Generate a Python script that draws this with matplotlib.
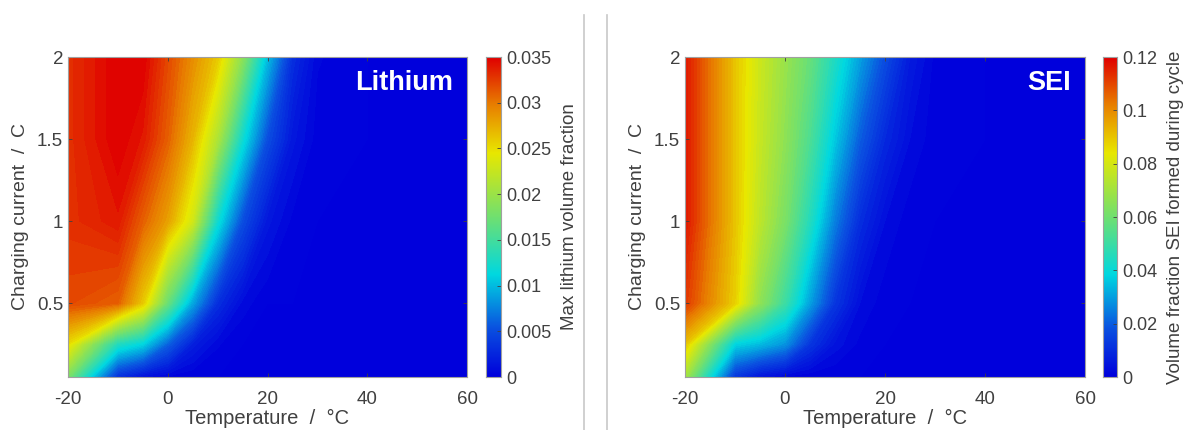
import numpy as np
import matplotlib
matplotlib.use("Agg")
import matplotlib.pyplot as plt
from matplotlib.colors import LinearSegmentedColormap
from matplotlib.lines import Line2D

plt.rcParams['font.family'] = ['Liberation Sans', 'DejaVu Sans']
plt.rcParams['axes.unicode_minus'] = False

# grid
temperatures = [-20, -10, -5, 0, 5, 10, 15, 20, 25, 30, 40, 50, 60]
c_rates = [0.05, 0.25, 0.5, 1.0, 1.5, 2.0]

# max lithium volume fraction, one row per C-rate
lithium = [
    [0.018, 0.003, 0.001, 0.0003, 0.0, 0.0, 0.0, 0.0, 0.0, 0.0, 0.0, 0.0, 0.0],
    [0.025, 0.013, 0.011, 0.006, 0.002, 0.0005, 0.0, 0.0, 0.0, 0.0, 0.0, 0.0, 0.0],
    [0.032, 0.031, 0.026, 0.017, 0.009, 0.003, 0.0007, 0.0, 0.0, 0.0, 0.0, 0.0, 0.0],
    [0.033, 0.034, 0.031, 0.028, 0.023, 0.012, 0.005, 0.0015, 0.0003, 0.0, 0.0, 0.0, 0.0],
    [0.033, 0.035, 0.034, 0.031, 0.027, 0.021, 0.012, 0.005, 0.0015, 0.0002, 0.0, 0.0, 0.0],
    [0.033, 0.035, 0.035, 0.032, 0.029, 0.026, 0.019, 0.010, 0.003, 0.0005, 0.0, 0.0, 0.0],
]

# volume fraction SEI formed during cycle
sei = [
    [0.070, 0.012, 0.004, 0.001, 0.0, 0.0, 0.0, 0.0, 0.0, 0.0, 0.0, 0.0, 0.0],
    [0.090, 0.038, 0.034, 0.028, 0.012, 0.004, 0.001, 0.0, 0.0, 0.0, 0.0, 0.0, 0.0],
    [0.112, 0.088, 0.066, 0.050, 0.030, 0.012, 0.003, 0.0005, 0.0, 0.0, 0.0, 0.0, 0.0],
    [0.117, 0.090, 0.075, 0.062, 0.045, 0.025, 0.010, 0.003, 0.0005, 0.0, 0.0, 0.0, 0.0],
    [0.117, 0.090, 0.077, 0.066, 0.053, 0.036, 0.020, 0.009, 0.003, 0.0005, 0.0, 0.0, 0.0],
    [0.117, 0.090, 0.078, 0.068, 0.058, 0.044, 0.030, 0.017, 0.006, 0.001, 0.0, 0.0, 0.0],
]

panels = [
    (lithium, 0.035, "Max lithium volume fraction", "Lithium",
     [0, 0.005, 0.01, 0.015, 0.02, 0.025, 0.03, 0.035]),
    (sei, 0.12, "Volume fraction SEI formed during cycle", "SEI",
     [0, 0.02, 0.04, 0.06, 0.08, 0.1, 0.12]),
]

cmap = LinearSegmentedColormap.from_list("bcyr", [
    (0.0, "#0000dc"),
    (0.15, "#0a50e0"),
    (0.32, "#00d8e0"),
    (0.5, "#70e070"),
    (0.7, "#e8e800"),
    (0.85, "#e88000"),
    (1.0, "#e00000"),
])

text_col = "#404040"

fig = plt.figure(figsize=(11.84, 4.30), dpi=100)
W, H = 1184, 430

ax_boxes = [(68, 57, 467, 377), (685, 57, 1085, 377)]
cb_boxes = [(486, 57, 501, 377), (1103, 57, 1117, 377)]

T, C = np.meshgrid(temperatures, c_rates)

for (data, vmax, cblabel, name, cticks), ab, cbb in zip(panels, ax_boxes, cb_boxes):
    ax = fig.add_axes([ab[0] / W, 1 - ab[3] / H, (ab[2] - ab[0]) / W, (ab[3] - ab[1]) / H])
    levels = np.linspace(0, vmax, 80)
    ax.contourf(T, C, np.array(data), levels=levels, cmap=cmap, vmin=0, vmax=vmax, extend="both")
    ax.set_xlim(-20, 60)
    ax.set_ylim(0.05, 2)
    ax.set_xticks([-20, 0, 20, 40, 60])
    ax.set_yticks([0.5, 1, 1.5, 2])
    ax.set_yticklabels(["0.5", "1", "1.5", "2"])
    ax.tick_params(labelsize=13.5, colors=text_col, direction="in", length=3,
                   top=True, right=True, width=0.6)
    ax.tick_params(axis="x", pad=10)
    for s in ax.spines.values():
        s.set_color("#a0a0a0")
        s.set_linewidth(0.8)
    ax.set_xlabel("Temperature  /  °C", fontsize=14.5, color=text_col, labelpad=1)
    ax.set_ylabel("Charging current  /  C", fontsize=14, color=text_col, labelpad=6)
    ax.text(0.965, 0.92, name, transform=ax.transAxes, ha="right", va="center",
            color="white", fontsize=19.5, fontweight="bold")

    cax = fig.add_axes([cbb[0] / W, 1 - cbb[3] / H, (cbb[2] - cbb[0]) / W, (cbb[3] - cbb[1]) / H])
    grad = np.linspace(0, vmax, 256).reshape(-1, 1)
    cax.imshow(grad, aspect="auto", origin="lower", cmap=cmap, vmin=0, vmax=vmax,
               extent=[0, 1, 0, vmax])
    cax.set_xticks([])
    cax.yaxis.tick_right()
    cax.set_yticks(cticks)
    cax.set_yticklabels([f"{v:g}" for v in cticks])
    cax.tick_params(labelsize=13, colors=text_col, direction="in", length=3, width=0.6)
    for s in cax.spines.values():
        s.set_color("#a0a0a0")
        s.set_linewidth(0.8)
    cax.yaxis.set_label_position("right")
    cax.set_ylabel(cblabel, fontsize=13.5, color=text_col, labelpad=7)

# separator lines
for xp in (584, 607):
    fig.add_artist(Line2D([xp / W, xp / W], [0, 1 - 15 / H], color="#c8c8c8", lw=1.2))

fig.savefig("out.png", dpi=100)
